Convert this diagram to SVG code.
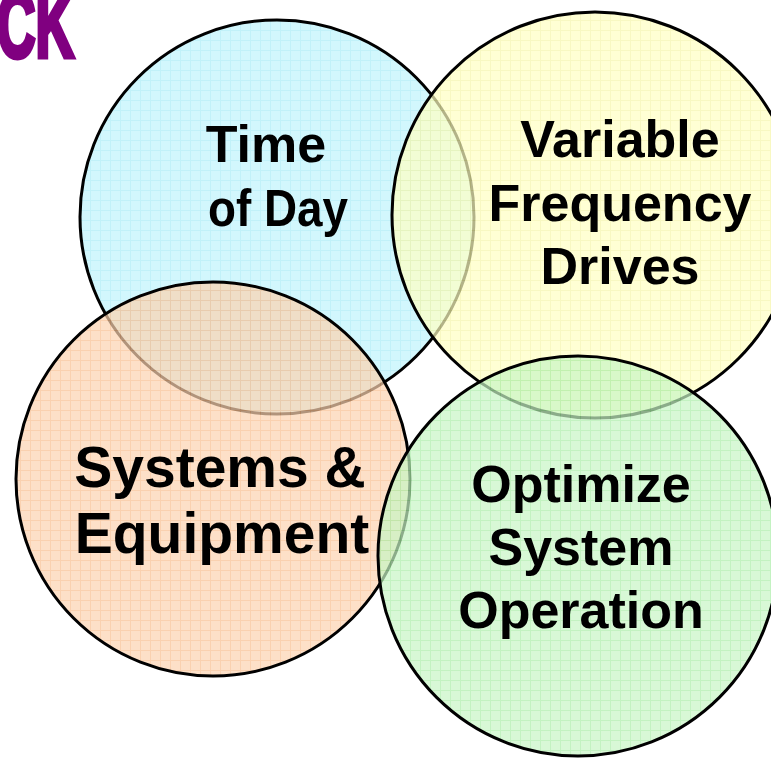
<svg xmlns="http://www.w3.org/2000/svg" width="771" height="760" viewBox="0 0 771 760">
  <style>
    .ring { stroke: #000; stroke-width: 3; fill-opacity: 0.7; }
    .label { font-family: "Liberation Sans", Arial, sans-serif; font-weight: bold; font-size: 52px; fill: #000; text-anchor: middle; }
    .corner { font-family: "Liberation Sans", Arial, sans-serif; font-weight: bold; font-size: 92px; fill: #800080; stroke: #800080; stroke-width: 5; stroke-linejoin: miter; }
  </style>
  <defs>
    <!-- graph-paper fills: light base with a 10px grid -->
    <pattern id="gridBlue" width="10" height="10" patternUnits="userSpaceOnUse">
      <rect width="10" height="10" fill="#bff4fc"/>
      <path d="M0 0.5H10M0.5 0V10" stroke="#a6ebf7" stroke-width="1"/>
    </pattern>
    <pattern id="gridYellow" width="10" height="10" patternUnits="userSpaceOnUse">
      <rect width="10" height="10" fill="#ffffc2"/>
      <path d="M0 0.5H10M0.5 0V10" stroke="#f5f5a8" stroke-width="1"/>
    </pattern>
    <pattern id="gridOrange" width="10" height="10" patternUnits="userSpaceOnUse">
      <rect width="10" height="10" fill="#fcd3b0"/>
      <path d="M0 0.5H10M0.5 0V10" stroke="#f8bd8e" stroke-width="1"/>
    </pattern>
    <pattern id="gridGreen" width="10" height="10" patternUnits="userSpaceOnUse">
      <rect width="10" height="10" fill="#c7f5c4"/>
      <path d="M0 0.5H10M0.5 0V10" stroke="#aaeda7" stroke-width="1"/>
    </pattern>
  </defs>

  <rect width="771" height="760" fill="#ffffff"/>

  <!-- partial heading in the corner -->
  <text class="corner" transform="translate(-3 57) scale(0.58 1)">CK</text>

  <g id="time-of-day">
    <circle class="ring" cx="277" cy="217" r="197" fill="url(#gridBlue)"/>
  </g>
  <g id="variable-frequency-drives">
    <circle class="ring" cx="595" cy="215" r="203" fill="url(#gridYellow)"/>
  </g>
  <g id="systems-equipment">
    <circle class="ring" cx="213" cy="479" r="197" fill="url(#gridOrange)"/>
  </g>
  <g id="optimize-system-operation">
    <circle class="ring" cx="578" cy="556" r="200" fill="url(#gridGreen)"/>
  </g>

  <!-- labels on top of all circles -->
  <g id="labels">
    <text class="label" x="266" y="162">Time</text>
    <text class="label" x="278" y="226" textLength="140" lengthAdjust="spacingAndGlyphs">of Day</text>
    <text class="label" x="620" y="157">Variable</text>
    <text class="label" x="620" y="221">Frequency</text>
    <text class="label" x="620" y="284">Drives</text>
    <text class="label" x="220" y="487" style="font-size:57px">Systems &amp;</text>
    <text class="label" x="222" y="553" style="font-size:57px">Equipment</text>
    <text class="label" x="581" y="502">Optimize</text>
    <text class="label" x="581" y="565">System</text>
    <text class="label" x="581" y="628">Operation</text>
  </g>

  <g id="connectors"></g>
</svg>
